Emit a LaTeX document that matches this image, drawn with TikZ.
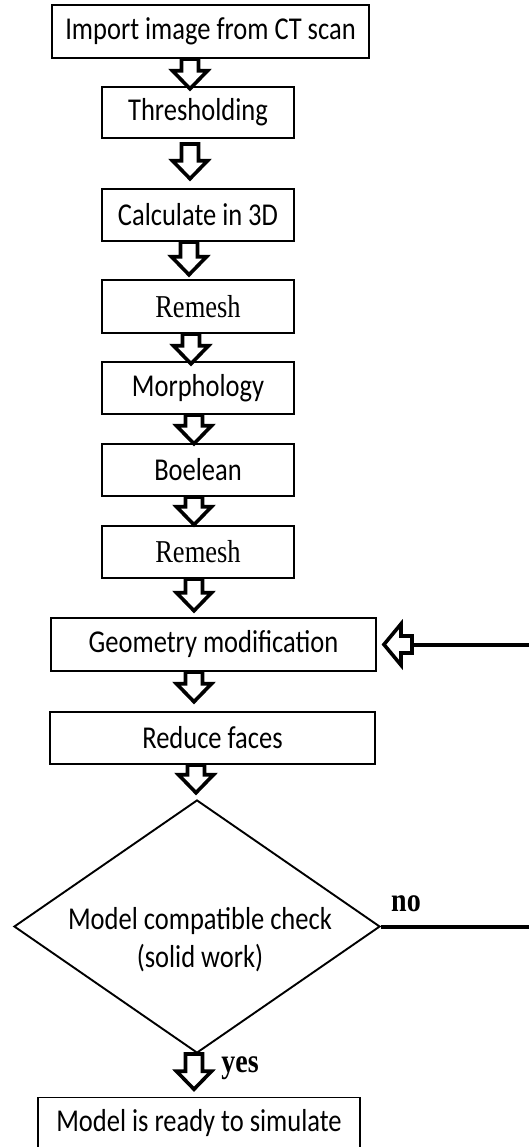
\documentclass[tikz,border=0pt]{standalone}
\usepackage{fontspec}
\usepackage{graphicx}
\setmainfont{Carlito}
\newfontfamily\tnr{Liberation Serif}
\usetikzlibrary{calc,shapes.geometric}
\newcommand\vs[1]{\scalebox{1}[1.2]{#1}}
% #1 from node, #2 to node, #3 x-coordinate name, #4 tip offset, #5 start offset
\newcommand\barrow[5]{%
  \path (#1.south -| #3) ++(0,#5) coordinate (bs) (#2.north -| #3) ++(0,#4) coordinate (bt);
  \draw[blk] ($(bs)+(-8.5,0)$) -- ($(bt)+(-8.5,-18)$) -- ($(bt)+(-17.5,-18)$) -- (bt)
     -- ($(bt)+(17.5,-18)$) -- ($(bt)+(8.5,-18)$) -- ($(bs)+(8.5,0)$) -- cycle;}
\begin{document}
\begin{tikzpicture}[x=1bp,y=-1bp,
  box/.style={draw, line width=1.9bp, inner sep=0pt, minimum height=53bp,
    font=\fontsize{26.5bp}{30bp}\selectfont},
  blk/.style={draw, fill=white, line width=3.6bp, line join=miter},
  fb/.style={draw, line width=4bp},
  lbl/.style={font=\tnr\bfseries\fontsize{28bp}{30bp}\selectfont, inner sep=0pt}]
\path[use as bounding box] (0,0) rectangle (529,1147);
\clip (0,0) rectangle (529,1147);
\node[box, minimum width=317bp] (b1) at (210.5,31.5) {\vs{Import image from CT scan}};
\node[box, minimum width=192bp, minimum height=51bp] (b2) at (198,112.5) {\vs{Thresholding}};
\node[box, minimum width=192bp, minimum height=52bp] (b3) at (198,215) {\vs{Calculate in 3D}};
\node[box, minimum width=192bp] (b4) at (198,306.5) {\vs{\tnr Remesh}};
\node[box, minimum width=192bp, minimum height=52bp] (b5) at (198,388) {\vs{Morphology}};
\node[box, minimum width=192bp, minimum height=52bp] (b6) at (198,470) {\vs{Boelean}};
\node[box, minimum width=192bp, minimum height=52bp] (b7) at (198,552) {\vs{\tnr Remesh}};
\node[box, minimum width=325bp] (b8) at (213.5,644.5) {\vs{Geometry modification}};
\node[box, minimum width=325bp, minimum height=52bp] (b9) at (212.5,738) {\vs{Reduce faces}};
\node[draw, diamond, line width=1.9bp, minimum width=366bp, minimum height=253bp, inner sep=0pt] (d) at (197,926.5) {};
\node[font=\fontsize{26.5bp}{38bp}\selectfont, align=center, inner sep=0pt] (dt) at (200,940)
  {\vs{Model compatible check}\\\vs{(solid work)}};
\node[box, minimum width=322bp, minimum height=52bp] (b10) at (199,1123.5) {\vs{Model is ready to simulate}};
\node[lbl] (no) at (406,904) {\vs{no}};
\node[lbl] (yes) at (240,1068) {\vs{yes}};
\coordinate (x189) at (189,0);
\coordinate (x190) at (190,0);
\coordinate (x191) at (191,0);
\coordinate (x194) at (194,0);
\coordinate (x196) at (196,0);
\barrow{b1}{b2}{x190}{2.7}{0}
\barrow{b2}{b3}{x190}{-9.3}{5}
\barrow{b3}{b4}{x189}{-4.3}{0}
\barrow{b4}{b5}{x191}{2.7}{0}
\barrow{b5}{b6}{x194}{0.7}{0}
\barrow{b6}{b7}{x194}{-0.3}{0}
\barrow{b7}{b8}{x194}{-6.3}{0}
\barrow{b8}{b9}{x194}{-9.3}{0}
\barrow{b9}{d}{x196}{-6.3}{0}
\barrow{d}{b10}{x194}{-7.3}{0}
% feedback loop
\path (b8.east) ++(7,0) coordinate (lt);
\draw[fb] (d.east) -- ++(165,0) coordinate (c1) |- ($(lt)+(28,0)$);
\draw[blk] (lt) -- ++(17,-20.5) -- ++(0,12) -- ++(11,0) -- ++(0,17) -- ++(-11,0) -- ++(0,12) -- cycle;
\end{tikzpicture}
\end{document}
